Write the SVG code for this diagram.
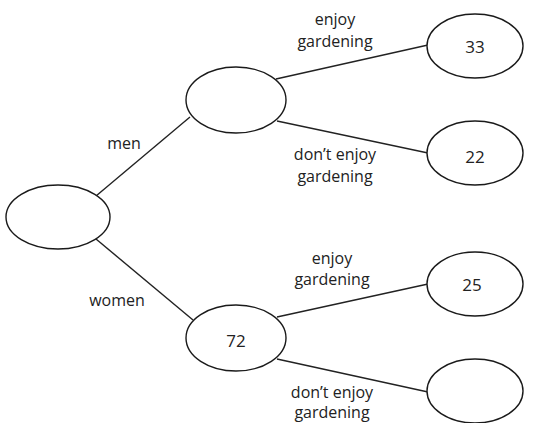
<svg xmlns="http://www.w3.org/2000/svg" width="544" height="423" viewBox="0 0 544 423">
<style>
.n{fill:#fff;stroke:#1a1a1a;stroke-width:1.4}
.c line{stroke:#222;stroke-width:1.4}
text{font-family:"Open Sans","Noto Sans",sans-serif;font-size:16px;fill:#222;text-anchor:middle}
.v{font-size:17px}
</style>
<rect width="544" height="423" fill="#fff"/>
<g class="c" id="connectors">
<line x1="96" y1="196" x2="190" y2="117"/>
<line x1="96" y1="239" x2="193" y2="320"/>
<line x1="276" y1="79" x2="428" y2="45"/>
<line x1="277" y1="121" x2="428" y2="153"/>
<line x1="277" y1="317" x2="428" y2="284"/>
<line x1="277" y1="359" x2="428" y2="392"/>
</g>
<g id="labels">
<text x="124" y="149">men</text>
<text x="117" y="306">women</text>
<text x="335" y="25">enjoy</text>
<text x="335" y="47">gardening</text>
<text x="335" y="160">don’t enjoy</text>
<text x="335" y="182">gardening</text>
<text x="332" y="264">enjoy</text>
<text x="332" y="285">gardening</text>
<text x="332" y="398">don’t enjoy</text>
<text x="332" y="418">gardening</text>
</g>
<g id="root"><ellipse class="n" cx="58" cy="217" rx="52" ry="32"/></g>
<g id="men"><ellipse class="n" cx="236" cy="100" rx="50" ry="33"/></g>
<g id="women"><ellipse class="n" cx="236" cy="338" rx="50" ry="33"/><text class="v" x="236" y="347">72</text></g>
<g id="men-enjoy"><ellipse class="n" cx="475" cy="46" rx="48" ry="32"/><text class="v" x="475" y="53">33</text></g>
<g id="men-dont"><ellipse class="n" cx="475" cy="153" rx="48" ry="32"/><text class="v" x="475" y="163">22</text></g>
<g id="women-enjoy"><ellipse class="n" cx="475" cy="284" rx="48" ry="32"/><text class="v" x="472" y="291">25</text></g>
<g id="women-dont"><ellipse class="n" cx="475" cy="391" rx="48" ry="32"/></g>
</svg>
